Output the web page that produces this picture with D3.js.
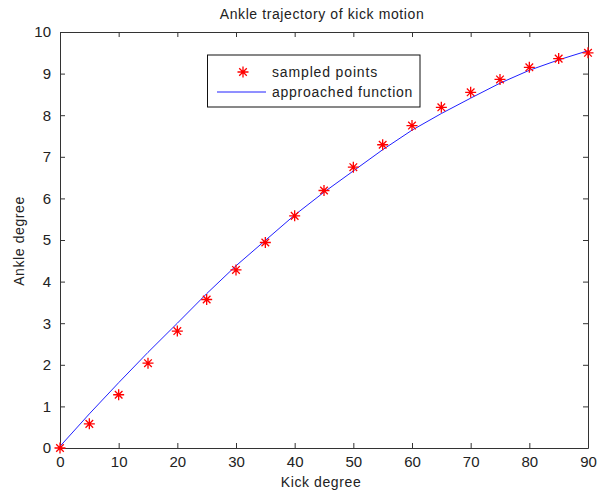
<!DOCTYPE html>
<html>
<head>
<meta charset="utf-8">
<script src="https://cdn.jsdelivr.net/npm/d3@7"></script>
<style>
  body { margin: 0; background: #fff; }
  svg text { font-family: "Liberation Sans", Arial, sans-serif; fill: #222; }
</style>
</head>
<body>
<script>
// data
const kickDeg = [0, 5, 10, 15, 20, 25, 30, 35, 40, 45, 50, 55, 60, 65, 70, 75, 80, 85, 90];
const sampled = [0, 0.58, 1.28, 2.04, 2.81, 3.57, 4.28, 4.94, 5.58, 6.19, 6.75, 7.29, 7.75, 8.19, 8.55, 8.86, 9.15, 9.36, 9.50];
const approached = [0.04, 0.82, 1.57, 2.3, 3.0, 3.71, 4.38, 4.99, 5.6, 6.15, 6.66, 7.17, 7.64, 8.04, 8.41, 8.77, 9.08, 9.33, 9.55];
const xTicks = [0, 10, 20, 30, 40, 50, 60, 70, 80, 90];
const yTicks = [0, 1, 2, 3, 4, 5, 6, 7, 8, 9, 10];

const W = 600, H = 498;
const plotL = 60, plotR = 588, plotT = 32, plotB = 448;

const svg = d3.select("body").append("svg")
    .attr("width", W)
    .attr("height", H);

const x = d3.scaleLinear().domain([0, 90]).range([plotL, plotR]);
const y = d3.scaleLinear().domain([0, 10]).range([plotB, plotT]);

// axes (ticks inward, mirrored on top and right)
function styleAxis(g) {
  g.selectAll("path.domain").attr("stroke", "#333").attr("stroke-width", 1);
  g.selectAll(".tick line").attr("stroke", "#333");
  g.selectAll(".tick text")
    .attr("font-size", 15)
    .attr("font-family", "Liberation Sans, Arial, sans-serif")
    .attr("fill", "#222");
}

svg.append("g")
    .attr("transform", `translate(0,${plotB})`)
    .call(d3.axisBottom(x).tickValues(xTicks).tickSizeInner(-5).tickSizeOuter(0).tickPadding(8))
    .call(styleAxis);

svg.append("g")
    .attr("transform", `translate(0,${plotT})`)
    .call(d3.axisTop(x).tickValues(xTicks).tickSizeInner(-5).tickSizeOuter(0).tickFormat(""))
    .call(styleAxis);

svg.append("g")
    .attr("transform", `translate(${plotL},0)`)
    .call(d3.axisLeft(y).tickValues(yTicks).tickSizeInner(-5).tickSizeOuter(0).tickPadding(9))
    .call(styleAxis);

svg.append("g")
    .attr("transform", `translate(${plotR},0)`)
    .call(d3.axisRight(y).tickValues(yTicks).tickSizeInner(-5).tickSizeOuter(0).tickFormat(""))
    .call(styleAxis);

// approached function line
const line = d3.line()
    .x((d, i) => x(kickDeg[i]))
    .y(d => y(d));

svg.append("path")
    .datum(approached)
    .attr("d", line)
    .attr("fill", "none")
    .attr("stroke", "#2020ff")
    .attr("stroke-width", 1);

// asterisk marker
const star = "M0,-5.5L0,5.5M-5.5,0L5.5,0M-3.8,-3.8L3.8,3.8M-3.8,3.8L3.8,-3.8";

svg.append("g").selectAll("path")
    .data(sampled)
    .join("path")
    .attr("transform", (d, i) => `translate(${x(kickDeg[i])},${y(d)})`)
    .attr("d", star)
    .attr("stroke", "#ff0000")
    .attr("stroke-width", 1.3)
    .attr("fill", "none");

// title and axis labels
svg.append("text")
    .attr("x", 322)
    .attr("y", 19)
    .attr("text-anchor", "middle")
    .attr("font-size", 14)
    .attr("letter-spacing", 0.6)
    .text("Ankle trajectory of kick motion");

svg.append("text")
    .attr("x", 321)
    .attr("y", 487)
    .attr("text-anchor", "middle")
    .attr("font-size", 14)
    .attr("letter-spacing", 0.6)
    .text("Kick degree");

svg.append("text")
    .attr("transform", "translate(24,241) rotate(-90)")
    .attr("text-anchor", "middle")
    .attr("font-size", 14)
    .attr("letter-spacing", 0.6)
    .text("Ankle degree");

// legend
const lg = svg.append("g");
lg.append("rect")
    .attr("x", 207.5)
    .attr("y", 55)
    .attr("width", 212.5)
    .attr("height", 52)
    .attr("fill", "#fff")
    .attr("stroke", "#111")
    .attr("stroke-width", 1);

lg.append("path")
    .attr("transform", "translate(243,72)")
    .attr("d", star)
    .attr("stroke", "#ff0000")
    .attr("stroke-width", 1.3)
    .attr("fill", "none");

lg.append("line")
    .attr("x1", 217).attr("x2", 266)
    .attr("y1", 92).attr("y2", 92)
    .attr("stroke", "#2020ff")
    .attr("stroke-width", 1);

lg.append("text")
    .attr("x", 272)
    .attr("y", 77)
    .attr("font-size", 14)
    .attr("letter-spacing", 0.85)
    .text("sampled points");

lg.append("text")
    .attr("x", 272)
    .attr("y", 97)
    .attr("font-size", 14)
    .attr("letter-spacing", 0.75)
    .text("approached function");
</script>
</body>
</html>
